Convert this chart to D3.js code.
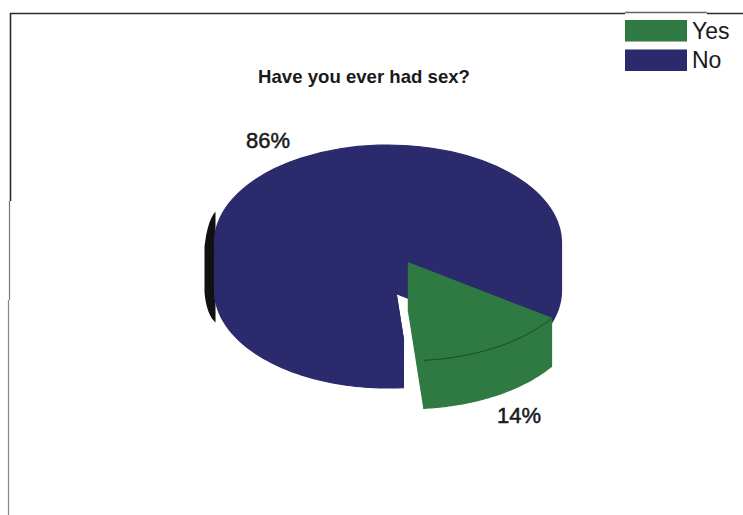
<!DOCTYPE html>
<html>
<head>
<meta charset="utf-8">
<script src="https://cdn.jsdelivr.net/npm/d3@7/dist/d3.min.js"></script>
<style>
  html, body { margin: 0; padding: 0; background: #fff; }
  svg { display: block; }
  text { font-family: "Liberation Sans", Arial, sans-serif; fill: #1a1a1a; }
</style>
</head>
<body>
<svg id="chart" width="743" height="515"></svg>
<script>
const categories = ["Yes", "No"];
const shares = [14, 86];
const shareLabels = ["14%", "86%"];
const sliceColors = ["#2f7a42", "#2b2a6c"];
const chartTitle = "Have you ever had sex?";

const svg = d3.select("#chart");
const color = d3.scaleOrdinal(categories, sliceColors);

// Tilted pie geometry: flattened ellipse with an extruded rim
const cx = 388, cy = 242.5, rx = 173.5, ry = 97.5, depth = 48;
const firstSliceStart = 124.5 * Math.PI / 180;
const explode = { Yes: 0.234, No: 0 };

const slices = d3.pie().sort(null)
  .startAngle(firstSliceStart)
  .endAngle(firstSliceStart + 2 * Math.PI)
  .value((d, i) => shares[i])(categories);

const rimPoint = (a, ox, oy, dy) => [ox + rx * Math.sin(a), oy - ry * Math.cos(a) + dy];
const polyline = d3.line();
const arcUnit = d3.arc().innerRadius(0).outerRadius(1);

// Page frame: broken scan-like rules along the top and left
const frame = svg.append("g").attr("fill", "none").attr("stroke", "#2a2a2a");
frame.append("path").attr("d", "M10,13.5H625M707,13.5H743").attr("stroke-width", 1.6);
frame.append("path").attr("d", "M10.5,13V201").attr("stroke-width", 1.6);
frame.append("path").attr("d", "M9.5,201V300").attr("stroke", "#777").attr("stroke-width", 1.2);
frame.append("path").attr("d", "M8.5,300V515").attr("stroke", "#888").attr("stroke-width", 1.2);
frame.append("path").attr("d", "M625,12.5H707").attr("stroke", "#666").attr("stroke-width", 1.4);

// Dark sliver along the left flank of the pie
svg.append("path")
  .attr("fill", "#111")
  .attr("d", () => {
    const left = cx - rx;
    return `M${left + 1},${cy - 31}Q${left - 7},${cy - 22} ${left - 10},${cy + 4}` +
           `L${left - 10},${cy + 50}Q${left - 8},${cy + 72} ${left + 1},${cy + 80}Z`;
  });

// Draw a slice body: outer wall, cut faces, top face, lifted by its explode offset
slices.forEach(s => {
  const name = s.data;
  const mid = (s.startAngle + s.endAngle) / 2;
  const ox = cx + explode[name] * rx * Math.sin(mid);
  const oy = cy - explode[name] * ry * Math.cos(mid) * 1.05;
  const fill = color(name);
  const g = svg.append("g").attr("class", "slice-" + name)
    .attr("stroke", fill).attr("stroke-width", 1.2).attr("stroke-linejoin", "round");

  // Outer wall: only the part of the rim that faces the viewer (90deg to 270deg)
  const front = [];
  for (const k of [0, 1]) {
    const lo = Math.max(s.startAngle, Math.PI / 2 + k * 2 * Math.PI);
    const hi = Math.min(s.endAngle, 1.5 * Math.PI + k * 2 * Math.PI);
    if (hi > lo) front.push([lo, hi]);
  }
  front.forEach(([lo, hi]) => {
    const steps = d3.range(0, 61).map(i => lo + (hi - lo) * i / 60);
    const pts = steps.map(a => rimPoint(a, ox, oy, 0))
      .concat(steps.slice().reverse().map(a => rimPoint(a, ox, oy, depth)));
    g.append("path").attr("d", polyline(pts) + "Z").attr("fill", fill);
  });

  // Cut faces along both straight edges of the slice
  [s.startAngle, s.endAngle].forEach(faceAngle => {
    g.append("path").attr("fill", fill).attr("d", polyline([
      [ox, oy], rimPoint(faceAngle, ox, oy, 0),
      rimPoint(faceAngle, ox, oy, depth), [ox, oy + depth]
    ]) + "Z");
  });

  // Top face: unit arc stretched onto the tilted ellipse
  g.append("path")
    .attr("transform", `translate(${ox},${oy}) scale(${rx},${ry})`)
    .attr("fill", fill)
    .attr("vector-effect", "non-scaling-stroke")
    .attr("d", arcUnit(s));

  // Darker seam between the top face and the wall of the green slice
  if (name === "Yes") {
    const steps = d3.range(0, 41).map(i => s.startAngle + (s.endAngle - s.startAngle) * i / 40);
    g.append("path")
      .attr("fill", "none").attr("stroke", "#1c4a28").attr("stroke-width", 1)
      .attr("d", polyline(steps.map(a => rimPoint(a, ox, oy, 0))));
  }
});

// Move the green slice above the navy one
svg.select(".slice-Yes").raise();

// Title
svg.append("text")
  .attr("x", 364).attr("y", 83)
  .attr("text-anchor", "middle")
  .attr("font-size", 18.6).attr("font-weight", "bold")
  .text(chartTitle);

// Percentage labels
const labelPos = { Yes: [519, 423], No: [268, 148] };
categories.forEach((c, i) => {
  svg.append("text")
    .attr("x", labelPos[c][0]).attr("y", labelPos[c][1])
    .attr("text-anchor", "middle")
    .attr("font-size", 22)
    .attr("stroke", "#1a1a1a").attr("stroke-width", 0.5)
    .text(shareLabels[i]);
});

// Legend
const legendY = d3.scaleBand().domain(categories).range([20, 71]).paddingInner(0.27).paddingOuter(0);
const legend = svg.append("g");
categories.forEach(c => {
  legend.append("rect")
    .attr("x", 625).attr("y", legendY(c))
    .attr("width", 62).attr("height", legendY.bandwidth())
    .attr("fill", color(c));
  legend.append("text")
    .attr("x", 692).attr("y", legendY(c) + 19)
    .attr("font-size", 23)
    .text(c);
});
</script>
</body>
</html>
